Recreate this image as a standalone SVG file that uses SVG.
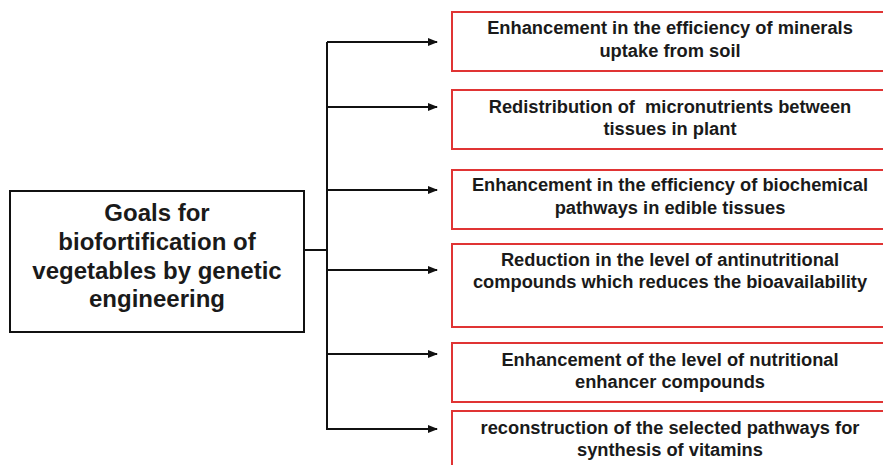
<svg xmlns="http://www.w3.org/2000/svg" width="883" height="465" viewBox="0 0 883 465">
<style>
.bg{fill:#fff}
.main{fill:#fff;stroke:#111;stroke-width:2}
.goal{fill:#fff;stroke:#e03434;stroke-width:2}
.t{font-family:"Liberation Sans",Arial,sans-serif;font-weight:bold;fill:#1a1a1a;text-anchor:middle;white-space:pre}
.tl{font-size:24px}
.tr{font-size:18.3px}
.c{fill:none;stroke:#111;stroke-width:2}
</style>
<defs>
<marker id="ah" markerWidth="10" markerHeight="10" refX="9" refY="5" orient="auto" markerUnits="userSpaceOnUse">
<path d="M0,1 L10,5 L0,9 Z" fill="#111"/>
</marker>
</defs>
<rect class="bg" width="883" height="465"/>
<g id="connectors">
<path class="c" d="M304,250 H327"/>
<path class="c" d="M327,42 V430"/>
<path class="c" d="M327,42 H437" marker-end="url(#ah)"/>
<path class="c" d="M327,107 H437" marker-end="url(#ah)"/>
<path class="c" d="M327,190 H437" marker-end="url(#ah)"/>
<path class="c" d="M327,270 H437" marker-end="url(#ah)"/>
<path class="c" d="M327,354 H437" marker-end="url(#ah)"/>
<path class="c" d="M327,429 H437" marker-end="url(#ah)"/>
</g>
<g id="goals">
<rect class="main" x="10" y="191" width="294" height="141"/>
<text class="t tl" x="157" y="221">Goals for</text>
<text class="t tl" x="157" y="250">biofortification of</text>
<text class="t tl" x="157" y="279">vegetables by genetic</text>
<text class="t tl" x="157" y="307">engineering</text>
</g>
<g id="g1">
<rect class="goal" x="452" y="12" width="440" height="59"/>
<text class="t tr" x="670" y="34">Enhancement in the efficiency of minerals</text>
<text class="t tr" x="670" y="57">uptake from soil</text>
</g>
<g id="g2">
<rect class="goal" x="452" y="90" width="440" height="59"/>
<text class="t tr" x="670" y="113" xml:space="preserve">Redistribution of  micronutrients between</text>
<text class="t tr" x="670" y="135">tissues in plant</text>
</g>
<g id="g3">
<rect class="goal" x="452" y="170" width="440" height="59"/>
<text class="t tr" x="670" y="191">Enhancement in the efficiency of biochemical</text>
<text class="t tr" x="670" y="214">pathways in edible tissues</text>
</g>
<g id="g4">
<rect class="goal" x="452" y="244" width="440" height="83"/>
<text class="t tr" x="670" y="266">Reduction in the level of antinutritional</text>
<text class="t tr" x="670" y="288">compounds which reduces the bioavailability</text>
</g>
<g id="g5">
<rect class="goal" x="452" y="343" width="440" height="59"/>
<text class="t tr" x="670" y="366">Enhancement of the level of nutritional</text>
<text class="t tr" x="670" y="388">enhancer compounds</text>
</g>
<g id="g6">
<rect class="goal" x="452" y="411" width="440" height="70"/>
<text class="t tr" x="670" y="434">reconstruction of the selected pathways for</text>
<text class="t tr" x="670" y="456">synthesis of vitamins</text>
</g>
</svg>
